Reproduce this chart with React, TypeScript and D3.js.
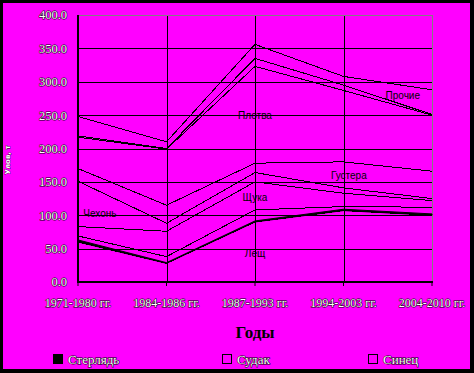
import React from 'react';
import * as d3 from 'd3';

const categories = ['1971-1980 гг.', '1984-1986 гг.', '1987-1993 гг.', '1994-2003 гг.', '2004-2010 гг.'];

// stacked from the bottom up
const seriesNames = ['Лещ', 'Стерлядь', 'Судак', 'Щука', 'Чехонь', 'Густера', 'Плотва', 'Синец', 'Прочие'];
const leshch = [60, 28, 90, 107, 100];
const sterlyad = [3, 1, 1.5, 2, 2];
const sudak = [6, 9, 16.5, 4, 10];
const shchuka = [14, 38, 42, 20, 10];
const chekhon = [68, 12, 14, 8, 3];
const gustera = [19, 27, 14, 39, 41];
const plotva = [47, 84, 145, 107, 84];
const sinets = [2, 1, 12, 8, 1];
const prochie = [29, 10, 21, 13, 37];

const yTicks = [0, 50, 100, 150, 200, 250, 300, 350, 400];
const legendNames = ['Стерлядь', 'Судак', 'Синец'];

// in-chart labels: [name, category index, value]
const areaLabels: [string, number, number][] = [
  ['Чехонь', 0.06, 103],
  ['Плотва', 2, 250],
  ['Прочие', 3.67, 279],
  ['Густера', 3.06, 159],
  ['Щука', 2, 127],
  ['Лещ', 2, 43],
];

const W = 474;
const H = 373;
const margin = { top: 15, right: 42, bottom: 91, left: 78 };
const BG = '#ff00ff';

const App: React.FC = () => {
  const values = [leshch, sterlyad, sudak, shchuka, chekhon, gustera, plotva, sinets, prochie];
  const table = categories.map((c, i) => {
    const row: Record<string, number | string> = { cat: c };
    seriesNames.forEach((n, k) => (row[n] = values[k][i]));
    return row;
  });
  const stacked = d3.stack<any>().keys(seriesNames)(table);

  const x = d3.scalePoint<string>().domain(categories).range([margin.left, W - margin.right]).padding(0);
  const y = d3.scaleLinear().domain([0, 400]).range([H - margin.bottom, margin.top]);
  const xi = d3.scaleLinear().domain([0, categories.length - 1]).range([margin.left, W - margin.right]);

  const line = d3.line<any>()
    .x(d => x(d.data.cat) as number)
    .y(d => y(d[1]));
  const area = d3.area<any>()
    .x(d => x(d.data.cat) as number)
    .y0(d => y(d[0]))
    .y1(d => y(d[1]));

  const x0 = margin.left;
  const x1 = W - margin.right;
  const y0 = H - margin.bottom;
  const y1 = margin.top;
  const axisText = { fill: '#ffffff', stroke: '#000', strokeWidth: 1, paintOrder: 'stroke' as const };

  return (
    <svg width={W} height={H} style={{ position: 'absolute', left: 0, top: 0 }}>
      <rect x={0} y={0} width={W} height={H} fill="#000" />
      <rect x={3} y={3} width={467} height={366} fill={BG} />

      {/* grid */}
      {yTicks.slice(1, -1).map(t => (
        <line key={t} x1={x0} x2={x1} y1={Math.round(y(t)) + 0.5} y2={Math.round(y(t)) + 0.5}
          stroke="#000" shapeRendering="crispEdges" />
      ))}
      {categories.slice(1, -1).map(c => (
        <line key={c} x1={Math.round(x(c) as number) + 0.5} x2={Math.round(x(c) as number) + 0.5} y1={y1} y2={y0}
          stroke="#000" shapeRendering="crispEdges" />
      ))}
      <line x1={x0} x2={x1} y1={y1 + 0.5} y2={y1 + 0.5} stroke="#808080" shapeRendering="crispEdges" />
      <line x1={x1 + 0.5} x2={x1 + 0.5} y1={y1} y2={y0} stroke="#808080" shapeRendering="crispEdges" />

      {/* series */}
      {stacked.map(s => s.key === 'Стерлядь' ? (
        <path key={s.key} d={area(s) as string} fill="#000" stroke="#000" strokeWidth={1} />
      ) : (
        <path key={s.key} d={line(s) as string} fill="none" stroke="#000" strokeWidth={1} shapeRendering="crispEdges" />
      ))}

      {areaLabels.map(([n, i, v]) => (
        <text key={n} x={xi(i)} y={y(v)} dy="0.35em" textAnchor={n === 'Чехонь' ? 'start' : 'middle'}
          fontFamily="Liberation Sans, Arial, sans-serif" fontSize={10} fill="#000">{n}</text>
      ))}

      {/* axes */}
      <line x1={x0} x2={x0} y1={y1} y2={y0 + 1} stroke="#000" strokeWidth={2} />
      <line x1={x0} x2={x1 + 1} y1={y0} y2={y0} stroke="#000" strokeWidth={2} />
      {categories.map(c => (
        <line key={c} x1={x(c)} x2={x(c)} y1={y0} y2={y0 + 4} stroke="#000" strokeWidth={1} />
      ))}
      {yTicks.map(t => (
        <text key={t} x={67} y={y(t)} dy="0.35em" textAnchor="end"
          fontFamily="Liberation Serif, Times New Roman, serif" fontSize={12.5} {...axisText}>{t.toFixed(1)}</text>
      ))}
      {categories.map(c => (
        <text key={c} x={x(c)} y={303} dy="0.35em" textAnchor="middle"
          fontFamily="Liberation Serif, Times New Roman, serif" fontSize={12} {...axisText}>{c}</text>
      ))}
      <text x={(x0 + x1) / 2} y={332} dy="0.35em" textAnchor="middle"
        fontFamily="Liberation Serif, Times New Roman, serif" fontSize={17} fontWeight="bold" fill="#000">Годы</text>
      <text transform={`translate(8,160) rotate(-90)`} textAnchor="middle" dy="0.35em"
        fontFamily="DejaVu Sans, sans-serif" fontSize={7} fontWeight="bold" {...axisText} strokeWidth={0.6}>Улов, т</text>

      {/* legend */}
      {legendNames.map((n, i) => {
        const lx = [53, 222, 368][i];
        return (
          <g key={n} transform={`translate(${lx},359)`}>
            <rect x={0.5} y={-4.5} width={9} height={9} fill={i === 0 ? '#000' : BG} stroke="#000" shapeRendering="crispEdges" />
            <text x={15} y={0} dy="0.35em" fontFamily="Liberation Serif, Times New Roman, serif" fontSize={13} {...axisText}>{n}</text>
          </g>
        );
      })}
    </svg>
  );
};

export default App;
